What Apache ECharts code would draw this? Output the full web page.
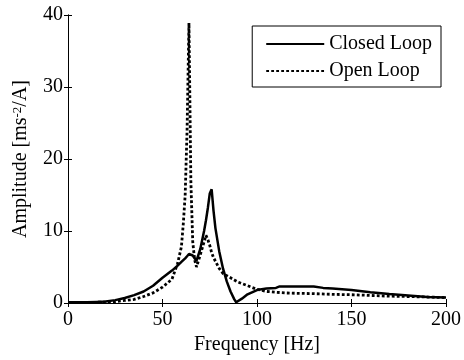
<!DOCTYPE html>
<html><head><meta charset="utf-8">
<script src="https://cdn.jsdelivr.net/npm/echarts@6/dist/echarts.min.js"></script>
<style>html,body{margin:0;padding:0;background:#fff}#c{width:464px;height:360px}</style>
</head><body><div id="c"></div>
<script>
const freqClosed = [0,5,10,15,20,25,30,35,40,45,50,55,58,60,62,63,64,65,66,67,68,69,70,72,73,74,75,76,77,78,80,82,84,86,88,89,90,92,95,100,105,110,112,120,130,135,140,150,160,170,180,190,200];
const closedLoop = [0.1,0.1,0.1,0.15,0.2,0.4,0.7,1.1,1.6,2.4,3.5,4.5,5.2,5.7,6.2,6.5,6.8,6.9,6.6,6.2,5.9,6.0,7.5,10,11.5,13.2,15.2,15.8,12.8,10.4,7.2,4.8,3.0,1.6,0.5,0.1,0.3,0.6,1.2,1.8,2.0,2.1,2.3,2.3,2.3,2.1,2.0,1.8,1.5,1.25,1.05,0.85,0.75];
const freqOpen = [0,5,10,15,20,25,30,35,40,45,50,55,58,60,61,62,63,64,65,66,67,68,70,72,73,74,75,76,77,78,80,82,84,86,88,90,92,95,100,105,110,115,120,130,140,150,160,170,180,190,200];
const openLoop = [0.05,0.05,0.05,0.1,0.15,0.2,0.35,0.5,0.9,1.4,2.2,3.3,5.5,7.8,11,15,24,38.9,17,8.5,6.0,5.0,6.7,8.5,9.4,8.8,8.0,7.0,6.3,5.8,4.8,4.1,3.8,3.5,3.2,2.9,2.7,2.4,1.9,1.6,1.5,1.4,1.35,1.3,1.2,1.15,1.05,0.95,0.9,0.83,0.75];
const seriesNames = ['Closed Loop','Open Loop'];

const F = 'Liberation Serif';
const chart = echarts.init(document.getElementById('c'), null, {renderer:'canvas'});
const axLine = {show:true, lineStyle:{color:'#000', width:1}};
const tick = {show:true, inside:true, length:4, lineStyle:{color:'#000'}};
chart.setOption({
  animation:false,
  backgroundColor:'#fff',
  grid:{left:68, right:16, top:15, bottom:57},
  legend:{
    orient:'vertical', right:23, top:26,
    data:seriesNames,
    itemWidth:58, itemHeight:20, itemGap:7,
    padding:[8,9,6,13],
    borderColor:'#000', borderWidth:1, backgroundColor:'#fff',
    itemStyle:{opacity:0},
    textStyle:{fontFamily:F, fontSize:20, color:'#000'}
  },
  xAxis:[{
    type:'value', min:0, max:200, interval:50, position:'bottom',
    axisLine:axLine, axisTick:tick, splitLine:{show:false},
    axisLabel:{fontFamily:F, fontSize:20, color:'#000', margin:7},
    name:'Frequency [Hz]', nameLocation:'middle', nameGap:29,
    nameTextStyle:{fontFamily:F, fontSize:20, color:'#000'}
  },{
    type:'value', min:0, max:200, interval:50, position:'top',
    axisLine:axLine, axisTick:tick, splitLine:{show:false}, axisLabel:{show:false}
  }],
  yAxis:[{
    type:'value', min:0, max:40, interval:10, position:'left',
    axisLine:axLine, axisTick:tick, splitLine:{show:false},
    axisLabel:{fontFamily:F, fontSize:20, color:'#000', margin:5},
    name:'{a|Amplitude [ms}{s|-2}{a|/A]}', nameLocation:'middle', nameGap:37,
    nameTextStyle:{fontFamily:F, fontSize:20, color:'#000',
      rich:{a:{fontFamily:F, fontSize:20, color:'#000'}, s:{fontFamily:F, fontSize:13, color:'#000', verticalAlign:'top'}}}
  },{
    type:'value', min:0, max:40, interval:10, position:'right',
    axisLine:axLine, axisTick:tick, splitLine:{show:false}, axisLabel:{show:false}
  }],
  series:[{
    name:seriesNames[0], type:'line', symbol:'none', showSymbol:false,
    data:freqClosed.map((f,i)=>[f, closedLoop[i]]),
    lineStyle:{color:'#000', width:2.5, type:'solid'}, itemStyle:{color:'#000'}, z:3
  },{
    name:seriesNames[1], type:'line', symbol:'none', showSymbol:false,
    data:freqOpen.map((f,i)=>[f, openLoop[i]]),
    lineStyle:{color:'#000', width:2.8, type:[2.8,2.2]}, itemStyle:{color:'#000'}, z:2
  }]
});
</script></body></html>
